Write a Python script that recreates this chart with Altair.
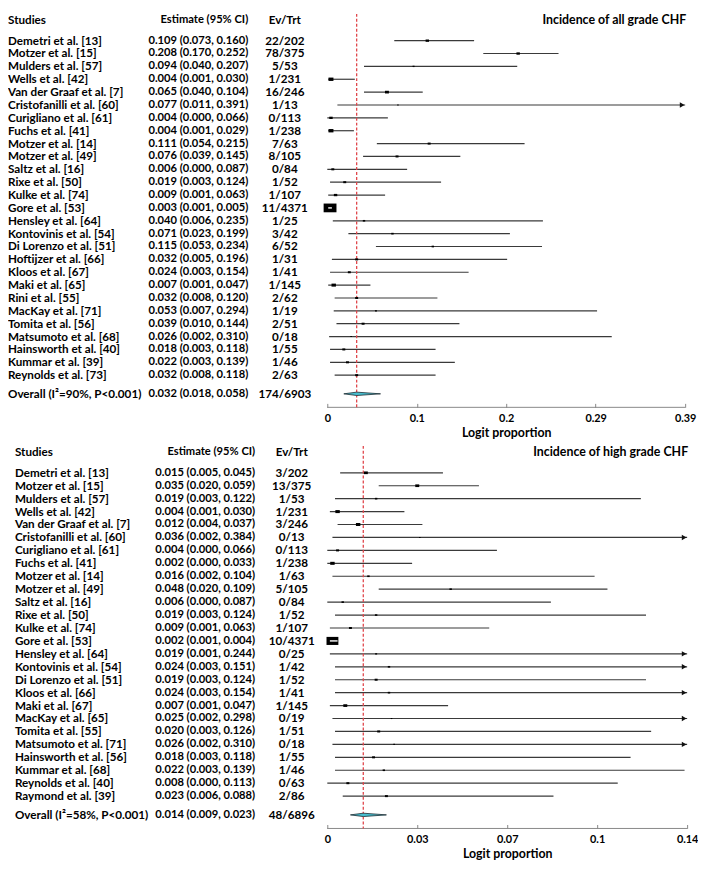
import altair as alt
import pandas as pd

# ---------------- Incidence of all grade CHF ----------------
studies_all = ["Demetri et al. [13]", "Motzer et al. [15]", "Mulders et al. [57]", "Wells et al. [42]",
               "Van der Graaf et al. [7]", "Cristofanilli et al. [60]", "Curigliano et al. [61]",
               "Fuchs et al. [41]", "Motzer et al. [14]", "Motzer et al. [49]", "Saltz et al. [16]",
               "Rixe et al. [50]", "Kulke et al. [74]", "Gore et al. [53]", "Hensley et al. [64]",
               "Kontovinis et al. [54]", "Di Lorenzo et al. [51]", "Hoftijzer et al. [66]", "Kloos et al. [67]",
               "Maki et al. [65]", "Rini et al. [55]", "MacKay et al. [71]", "Tomita et al. [56]",
               "Matsumoto et al. [68]", "Hainsworth et al. [40]", "Kummar et al. [39]", "Reynolds et al. [73]"]
est_all = [0.109, 0.208, 0.094, 0.004, 0.065, 0.077, 0.004, 0.004, 0.111, 0.076, 0.006, 0.019, 0.009, 0.003,
           0.040, 0.071, 0.115, 0.032, 0.024, 0.007, 0.032, 0.053, 0.039, 0.026, 0.018, 0.022, 0.032]
lo_all = [0.073, 0.170, 0.040, 0.001, 0.040, 0.011, 0.000, 0.001, 0.054, 0.039, 0.000, 0.003, 0.001, 0.001,
          0.006, 0.023, 0.053, 0.005, 0.003, 0.001, 0.008, 0.007, 0.010, 0.002, 0.003, 0.003, 0.008]
hi_all = [0.160, 0.252, 0.207, 0.030, 0.104, 0.391, 0.066, 0.029, 0.215, 0.145, 0.087, 0.124, 0.063, 0.005,
          0.235, 0.199, 0.234, 0.196, 0.154, 0.047, 0.120, 0.294, 0.144, 0.310, 0.118, 0.139, 0.118]
evtrt_all = ["22/202", "78/375", "5/53", "1/231", "16/246", "1/13", "0/113", "1/238", "7/63", "8/105", "0/84",
             "1/52", "1/107", "11/4371", "1/25", "3/42", "6/52", "1/31", "1/41", "1/145", "2/62", "1/19",
             "2/51", "0/18", "1/55", "1/46", "2/63"]
weight_all = [12, 12, 4, 25, 16, 2.5, 12, 25, 9, 9, 9, 9, 12, 169, 6, 6, 6, 9, 9, 20, 9, 4, 9, 2.5, 9, 9, 9]
overall_all = ["Overall (I\u00b2=90%, P<0.001)", 0.032, 0.018, 0.058, "174/6903"]
ticks_all = [0, 0.0975, 0.195, 0.2925, 0.39]
tick_labels_all = ["0", "0.1", "0.2", "0.29", "0.39"]

# ---------------- Incidence of high grade CHF ----------------
studies_high = ["Demetri et al. [13]", "Motzer et al. [15]", "Mulders et al. [57]", "Wells et al. [42]",
                "Van der Graaf et al. [7]", "Cristofanilli et al. [60]", "Curigliano et al. [61]",
                "Fuchs et al. [41]", "Motzer et al. [14]", "Motzer et al. [49]", "Saltz et al. [16]",
                "Rixe et al. [50]", "Kulke et al. [74]", "Gore et al. [53]", "Hensley et al. [64]",
                "Kontovinis et al. [54]", "Di Lorenzo et al. [51]", "Kloos et al. [66]", "Maki et al. [67]",
                "MacKay et al. [65]", "Tomita et al. [55]", "Matsumoto et al. [71]", "Hainsworth et al. [56]",
                "Kummar et al. [68]", "Reynolds et al. [40]", "Raymond et al. [39]"]
est_high = [0.015, 0.035, 0.019, 0.004, 0.012, 0.036, 0.004, 0.002, 0.016, 0.048, 0.006, 0.019, 0.009, 0.002,
            0.019, 0.024, 0.019, 0.024, 0.007, 0.025, 0.020, 0.026, 0.018, 0.022, 0.008, 0.023]
lo_high = [0.005, 0.020, 0.003, 0.001, 0.004, 0.002, 0.000, 0.000, 0.002, 0.020, 0.000, 0.003, 0.001, 0.001,
           0.001, 0.003, 0.003, 0.003, 0.001, 0.002, 0.003, 0.002, 0.003, 0.003, 0.000, 0.006]
hi_high = [0.045, 0.059, 0.122, 0.030, 0.037, 0.384, 0.066, 0.033, 0.104, 0.109, 0.087, 0.124, 0.063, 0.004,
           0.244, 0.151, 0.124, 0.154, 0.047, 0.298, 0.126, 0.310, 0.118, 0.139, 0.113, 0.088]
evtrt_high = ["3/202", "13/375", "1/53", "1/231", "3/246", "0/13", "0/113", "1/238", "1/63", "5/105", "0/84",
              "1/52", "1/107", "10/4371", "0/25", "1/42", "1/52", "1/41", "1/145", "0/19", "1/51", "0/18",
              "1/55", "1/46", "0/63", "2/86"]
weight_high = [16, 16, 6, 20, 20, 2.5, 9, 20, 6, 6, 6, 6, 9, 144, 4, 6, 9, 6, 16, 2.5, 9, 2.5, 9, 6, 9, 9]
overall_high = ["Overall (I\u00b2=58%, P<0.001)", 0.014, 0.009, 0.023, "48/6896"]
ticks_high = [0, 0.035, 0.07, 0.105, 0.14]
tick_labels_high = ["0", "0.03", "0.07", "0.1", "0.14"]

FONT = "Lato"
FS = 11.8
FS_EST = 11.3
BOX = "M-1,-0.68H1V0.68H-1Z"


def panel(studies, est, lo, hi, ev, weight, overall, ticks, tick_labels, title, W, H,
          left_x, est_x, ev_x):
    n = len(studies)
    xmax = ticks[-1]
    ov_row = n - 1 + 1.45
    head_row = -1.6
    y_scale = alt.Scale(domain=[-2.08, ov_row + 1.05], reverse=True, nice=False, zero=False)
    x_scale = alt.Scale(domain=[0, xmax], nice=False, zero=False)
    label_expr = " : ".join(f"abs(datum.value - {v}) < 1e-9 ? '{l}'" for v, l in zip(ticks, tick_labels)) + " : ''"
    x_axis = alt.Axis(values=ticks, labelExpr=label_expr, title="Logit proportion",
                      titleFont=FONT, titleFontWeight="bold", titleFontSize=12.5, titleColor="black",
                      labelFont=FONT, labelFontWeight="bold", labelFontSize=11, labelColor="black",
                      domain=False, ticks=True, tickSize=4, tickColor="#888", offset=-4,
                      labelPadding=5, titlePadding=3, grid=False, labelFlush=False, labelOverlap=False)

    df = pd.DataFrame({"row": list(range(n)), "study": studies, "est": est, "lo": lo, "hi": hi,
                       "ev": ev, "w": weight})
    df["hi_clip"] = [min(h, xmax) for h in hi]
    df["arrow"] = [h > xmax for h in hi]
    df["xmax"] = xmax

    txt = pd.DataFrame({
        "row": [head_row] + list(range(n)) + [ov_row],
        "study": ["Studies"] + studies + [overall[0]],
        "ci": ["Estimate (95% CI)"] + [f"{e:.3f} ({l:.3f}, {h:.3f})" for e, l, h in zip(est, lo, hi)]
              + [f"{overall[1]:.3f} ({overall[2]:.3f}, {overall[3]:.3f})"],
        "ev": ["Ev/Trt"] + ev + [overall[4]],
    })
    ov = pd.DataFrame({"est": [overall[1]], "row": [head_row], "title": [title]})
    dia = pd.DataFrame({"x": [overall[2], overall[1], overall[3]],
                        "y": [ov_row, ov_row - 0.13, ov_row],
                        "y2": [ov_row, ov_row + 0.13, ov_row]})

    Y = alt.Y("row:Q", scale=y_scale, axis=None)
    tbase = alt.Chart(txt)
    tkw = dict(font=FONT, fontWeight="bold", baseline="middle", color="black")

    studies_t = tbase.mark_text(align="left", fontSize=FS, **tkw).encode(
        x=alt.value(left_x), y=Y, text="study:N")
    ci_t = tbase.mark_text(align="right", fontSize=FS_EST, **tkw).encode(
        x=alt.value(est_x), y=Y, text="ci:N")
    ev_t = tbase.mark_text(align="center", fontSize=FS, **tkw).encode(
        x=alt.value(ev_x), y=Y, text="ev:N")
    title_t = alt.Chart(ov).mark_text(align="right", fontSize=12.5, **tkw).encode(
        x=alt.value(W + 1), y=Y, text="title:N")

    baseline = alt.Chart(ov).mark_rule(color="#888", strokeWidth=1).encode(
        x=alt.value(0), x2=alt.value(W), y=alt.value(H))

    ci = alt.Chart(df).mark_rule(color="#3a3a3a", strokeWidth=1.2).encode(
        x=alt.X("lo:Q", scale=x_scale, axis=x_axis), x2="hi_clip:Q", y=Y)
    arrows = alt.Chart(df).transform_filter("datum.arrow").mark_point(
        shape="triangle-right", filled=True, color="#111", size=30, opacity=1).encode(
        x=alt.X("xmax:Q", scale=x_scale, axis=x_axis), xOffset=alt.value(-3), y=Y)
    red = alt.Chart(ov).mark_rule(color="#e0464b", strokeDash=[3, 2], strokeWidth=1.3).encode(
        x=alt.X("est:Q", scale=x_scale, axis=x_axis))
    boxes = alt.Chart(df).mark_point(shape=BOX, filled=True, color="black", opacity=1).encode(
        x=alt.X("est:Q", scale=x_scale, axis=x_axis), y=Y,
        size=alt.Size("w:Q", scale=alt.Scale(type="linear", domain=[0, 170], range=[0, 170]), legend=None))
    white = alt.Chart(df).transform_filter("datum.w > 100").mark_rule(color="white", strokeWidth=1.4).encode(
        x=alt.X("lo:Q", scale=x_scale, axis=x_axis), x2="hi_clip:Q", y=Y)
    diamond = alt.Chart(dia).mark_area(color="#48bfd0", stroke="#1a2a30", strokeWidth=0.8, opacity=1).encode(
        x=alt.X("x:Q", scale=x_scale, axis=x_axis),
        y=alt.Y("y:Q", scale=y_scale, axis=None), y2="y2:Q")

    return alt.layer(baseline, ci, arrows, red, boxes, white, diamond,
                     studies_t, ci_t, ev_t, title_t).properties(width=W, height=H)


top = panel(studies_all, est_all, lo_all, hi_all, evtrt_all, weight_all, overall_all,
            ticks_all, tick_labels_all, "Incidence of all grade CHF", 362, 398,
            left_x=-323, est_x=-80, ev_x=-43)
bottom = panel(studies_high, est_high, lo_high, hi_high, evtrt_high, weight_high, overall_high,
               ticks_high, tick_labels_high, "Incidence of high grade CHF", 364, 387,
               left_x=-316, est_x=-73, ev_x=-36)

chart = alt.vconcat(top, bottom, spacing=6).properties(
    padding={"left": 0, "top": 0, "right": 0, "bottom": 0}).configure_view(stroke=None)
chart.save("out.html", embed_options={"renderer": "svg", "actions": False})
